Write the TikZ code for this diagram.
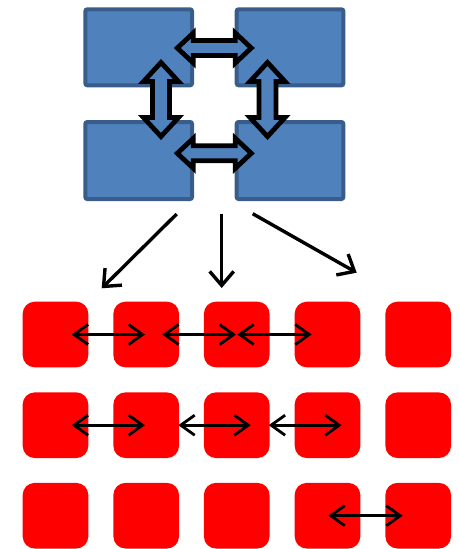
\documentclass[tikz,border=0pt]{standalone}
\usetikzlibrary{arrows.meta,calc}
\definecolor{bluefill}{HTML}{4F81BD}
\definecolor{blueline}{HTML}{385D8A}
\tikzset{
  bluebox/.style={draw=blueline, fill=bluefill, line width=4pt, rounded corners=2pt, minimum width=106.7pt, minimum height=76pt, inner sep=0pt},
  redbox/.style={fill=red, rounded corners=12pt, minimum size=65.6pt, inner sep=0pt},
  barrow/.style={draw=black, line width=4.8pt, fill=bluefill, line join=miter},
  bigarr/.style={draw=black, line width=3.4pt, -{Straight Barb[length=14pt,width=24pt,line width=3.4pt]}},
  thinarr/.style={draw=black, line width=2.8pt, {Straight Barb[length=14pt,width=20pt,line width=2.8pt]}-{Straight Barb[length=14pt,width=20pt,line width=2.8pt]}},
  pics/dblarrow/.style args={#1/#2/#3/#4}{code={
    \draw[barrow] (-#1,0) -- (-#1+#2,-#3) -- (-#1+#2,-#4) -- (#1-#2,-#4) -- (#1-#2,-#3) -- (#1,0)
      -- (#1-#2,#3) -- (#1-#2,#4) -- (-#1+#2,#4) -- (-#1+#2,#3) -- cycle;}}
}
\begin{document}
\begin{tikzpicture}[x=1pt,y=-1pt]
\useasboundingbox (0,0) rectangle (458,549);
% blue boxes
\node[bluebox] (btl) at (138.7,47.3) {};
\node[bluebox] (btr) at (290,47.3) {};
\node[bluebox, minimum height=77pt] (bbl) at (138.7,160.5) {};
\node[bluebox, minimum height=77pt] (bbr) at (290,160.5) {};
% block double arrows
\pic at (214.3,48) {dblarrow=37/16/15/7.5};
\pic at (214.3,153.3) {dblarrow=37/16/15/7.5};
\pic[rotate=90] at (161,99.5) {dblarrow=37/19/17.5/8.5};
\pic[rotate=90] at (267.5,99.5) {dblarrow=37/19/17.5/8.5};
% red boxes
\foreach \r/\y in {1/334.5,2/425.2,3/515.7}{
  \foreach \c/\x in {1/55.5,2/146.2,3/236.7,4/327.5,5/418.2}{
    \node[redbox] (r\r\c) at (\x,\y) {};
  }
}
% arrows from blue to red
\coordinate (s1) at (176.7,214);
\coordinate (e1) at (101.7,288.3);
\coordinate (s2) at (221.7,213.7);
\coordinate (e2) at (221.7,288);
\coordinate (s3) at (252.7,213.7);
\coordinate (e3) at (356.7,272.7);
\draw[bigarr] (s1) -- (e1);
\draw[bigarr] (s2) -- (e2);
\draw[bigarr] (s3) -- (e3);
% thin double arrows
\draw[thinarr] ($(r11.center)+(16.2,0)$) -- ($(r12.center)+(-1.2,0)$);
\draw[thinarr] ($(r12.center)+(16.1,0)$) -- ($(r13.center)+(-0.7,0)$);
\draw[thinarr] ($(r13.center)+(0.6,0)$) -- ($(r14.center)+(-15.8,0)$);
\draw[thinarr] ($(r21.center)+(16.2,0)$) -- ($(r22.center)+(-1.2,0)$);
\draw[thinarr] ($(r22.center)+(32.1,0)$) -- ($(r23.center)+(14,0)$);
\draw[thinarr] ($(r23.center)+(32,0)$) -- ($(r24.center)+(14.2,0)$);
\draw[thinarr] ($(r34.center)+(0.8,0)$) -- ($(r35.center)+(-15.5,0)$);
\end{tikzpicture}
\end{document}
